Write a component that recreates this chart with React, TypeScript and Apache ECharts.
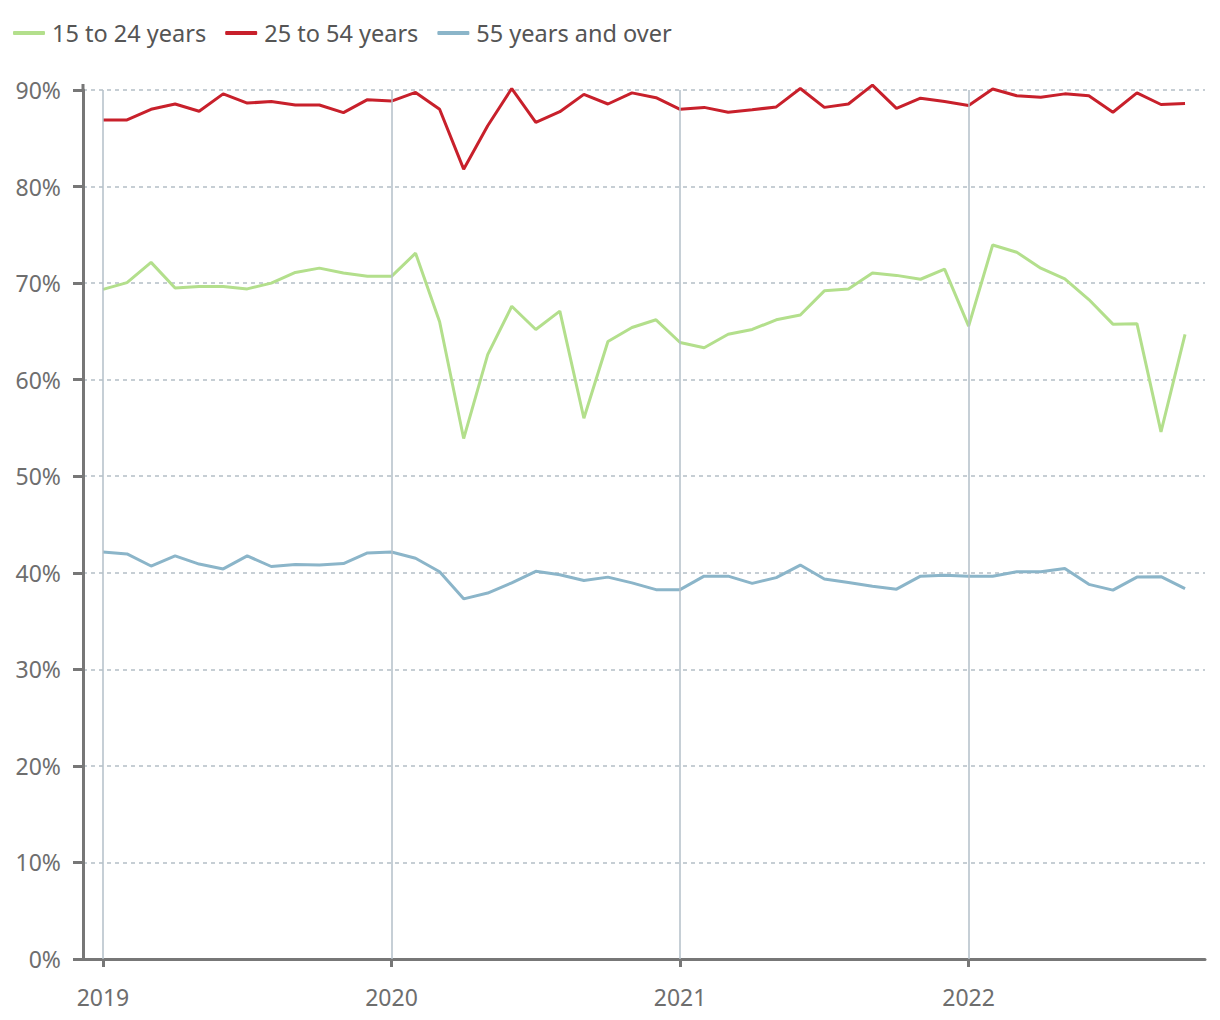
import React, { useEffect, useRef } from "react";
import * as echarts from "echarts";

const months: string[] = [
  "2019-01","2019-02","2019-03","2019-04","2019-05","2019-06","2019-07","2019-08","2019-09","2019-10","2019-11","2019-12",
  "2020-01","2020-02","2020-03","2020-04","2020-05","2020-06","2020-07","2020-08","2020-09","2020-10","2020-11","2020-12",
  "2021-01","2021-02","2021-03","2021-04","2021-05","2021-06","2021-07","2021-08","2021-09","2021-10","2021-11","2021-12",
  "2022-01","2022-02","2022-03","2022-04","2022-05","2022-06","2022-07","2022-08","2022-09","2022-10",
];

const youth: number[] = [
  69.35, 70.05, 72.15, 69.5, 69.65, 69.65, 69.4, 70.0, 71.1, 71.55, 71.05, 70.7,
  70.7, 73.1, 66.0, 53.9, 62.6, 67.6, 65.2, 67.1, 56.0, 63.95, 65.4, 66.2,
  63.85, 63.3, 64.7, 65.2, 66.2, 66.7, 69.2, 69.4, 71.05, 70.8, 70.4, 71.45,
  65.55, 73.95, 73.2, 71.55, 70.45, 68.3, 65.75, 65.8, 54.6, 64.7,
];

const prime: number[] = [
  86.9, 86.9, 88.0, 88.55, 87.8, 89.6, 88.65, 88.8, 88.45, 88.45, 87.65, 89.0,
  88.85, 89.75, 88.0, 81.8, 86.3, 90.15, 86.65, 87.75, 89.55, 88.55, 89.7, 89.2,
  88.0, 88.2, 87.7, 87.95, 88.25, 90.15, 88.2, 88.55, 90.5, 88.1, 89.15, 88.8,
  88.4, 90.1, 89.4, 89.25, 89.6, 89.4, 87.7, 89.7, 88.5, 88.6,
];

const older: number[] = [
  42.15, 41.95, 40.7, 41.75, 40.9, 40.4, 41.75, 40.65, 40.85, 40.8, 40.95, 42.05,
  42.15, 41.5, 40.1, 37.3, 37.9, 38.95, 40.15, 39.8, 39.2, 39.55, 38.95, 38.25,
  38.25, 39.65, 39.65, 38.9, 39.5, 40.8, 39.35, 39.0, 38.6, 38.3, 39.65, 39.75,
  39.65, 39.65, 40.1, 40.1, 40.45, 38.8, 38.2, 39.55, 39.6, 38.35,
];

const seriesNames: string[] = ["15 to 24 years", "25 to 54 years", "55 years and over"];
const seriesColors: string[] = ["#b3df8c", "#c8202b", "#8bb5c9"];
const yearTicks: number[] = [0, 12, 24, 36];
const yearLabels: string[] = ["2019", "2020", "2021", "2022"];

const FONT = "'Noto Sans', 'Open Sans', sans-serif";

export default function App() {
  const ref = useRef<HTMLDivElement>(null);

  useEffect(() => {
    if (!ref.current) return;
    const chart = echarts.init(ref.current, undefined, { renderer: "svg" });
    const allData = [youth, prime, older];
    const toPairs = (arr: number[]) => arr.map((v, i) => [i, v]);

    const option: any = {
      animation: false,
      backgroundColor: "#ffffff",
      textStyle: { fontFamily: FONT },
      legend: {
        left: 8,
        top: 16,
        itemWidth: 32,
        itemHeight: 4,
        itemGap: 19,
        icon: "roundRect",
        data: seriesNames,
        textStyle: {
          fontFamily: FONT,
          fontSize: 23.5,
          color: "#555555",
          padding: [0, 0, 0, 2],
        },
      },
      grid: {
        left: 83,
        right: 15,
        top: 90,
        bottom: 61,
        containLabel: false,
        outerBoundsMode: "none",
      },
      graphic: [
        {
          type: "line",
          shape: { x1: 83, y1: 84, x2: 83, y2: 92 },
          style: { stroke: "#777777", lineWidth: 3 },
          z: 10,
        },
      ],
      xAxis: {
        type: "value",
        min: -0.83,
        max: 45.83,
        axisLine: { show: true, onZero: false, lineStyle: { color: "#777777", width: 3 } },
        axisTick: {
          show: true,
          length: 8,
          customValues: yearTicks,
          lineStyle: { color: "#777777", width: 3 },
        },
        axisLabel: {
          show: true,
          customValues: yearTicks,
          margin: 26,
          fontSize: 23,
          fontFamily: FONT,
          color: "#6e6e6e",
          formatter: (v: number) => {
            const idx = yearTicks.indexOf(Math.round(v));
            return idx >= 0 ? yearLabels[idx] : "";
          },
        },
        splitLine: { show: false },
      },
      yAxis: {
        type: "value",
        min: 0,
        max: 90,
        interval: 10,
        axisLine: { show: true, onZero: false, lineStyle: { color: "#777777", width: 3 } },
        axisTick: { show: true, length: 10, lineStyle: { color: "#777777", width: 3 } },
        axisLabel: {
          margin: 22,
          fontSize: 23,
          fontFamily: FONT,
          color: "#6e6e6e",
          formatter: (v: number) => `${v}%`,
        },
        splitLine: {
          show: true,
          lineStyle: { color: "#b4bec6", width: 1.5, type: [4, 4] },
        },
      },
      series: [
        {
          name: "__years",
          type: "line",
          data: [],
          z: 1,
          silent: true,
          markLine: {
            silent: true,
            symbol: ["none", "none"],
            label: { show: false },
            lineStyle: { color: "#b3bfc8", width: 1.5, type: "solid" },
            data: yearTicks.map((v) => ({ xAxis: v })),
          },
        },
        ...seriesNames.map((name, k) => ({
          name,
          type: "line",
          data: toPairs(allData[k]),
          showSymbol: false,
          symbol: "none",
          clip: false,
          z: 3,
          color: seriesColors[k],
          lineStyle: { color: seriesColors[k], width: 3 },
        })),
      ],
    };

    chart.setOption(option);
    return () => chart.dispose();
  }, []);

  return (
    <div
      ref={ref}
      style={{ position: "fixed", left: 0, top: 0, width: 1220, height: 1020, background: "#fff" }}
    />
  );
}
